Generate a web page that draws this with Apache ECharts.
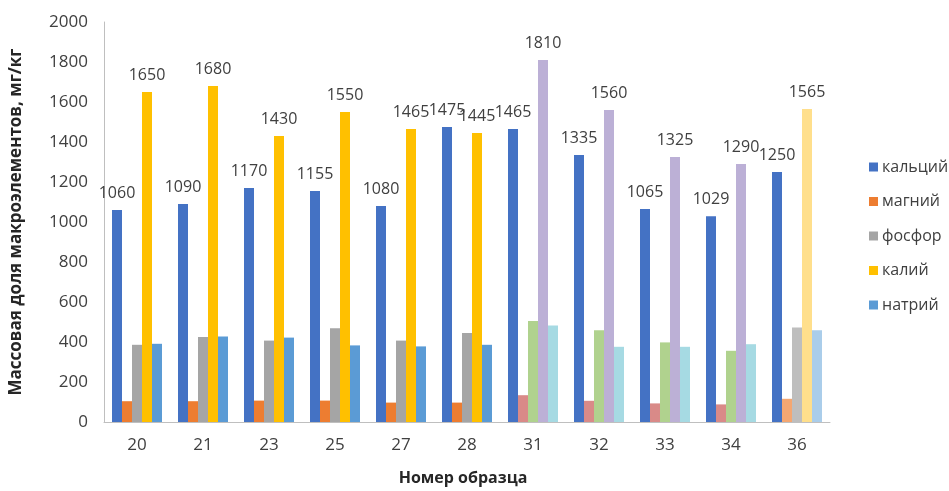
<!DOCTYPE html>
<html>
<head>
<meta charset="utf-8">
<script src="https://cdn.jsdelivr.net/npm/echarts@6/dist/echarts.min.js"></script>
<style>
  html, body { margin: 0; padding: 0; background: #fff; }
  #chart { width: 949px; height: 491px; }
</style>
</head>
<body>
<div id="chart"></div>
<script>
// Sample numbers (x axis)
const samples = ['20', '21', '23', '25', '27', '28', '31', '32', '33', '34', '36'];

// Mass fraction of macroelements, mg/kg
const calcium    = [1060, 1090, 1170, 1155, 1080, 1475, 1465, 1335, 1065, 1029, 1250];
const magnesium  = [104, 104, 107, 107, 97, 97, 134, 106, 93, 88, 116];
const phosphorus = [386, 425, 407, 469, 407, 445, 505, 459, 398, 356, 472];
const potassium  = [1650, 1680, 1430, 1550, 1465, 1445, 1810, 1560, 1325, 1290, 1565];
const sodium     = [391, 427, 422, 383, 378, 386, 482, 376, 376, 389, 459];

const seriesNames = ['кальций', 'магний', 'фосфор', 'калий', 'натрий'];
const yTicks = [0, 200, 400, 600, 800, 1000, 1200, 1400, 1600, 1800, 2000];

// Base palette plus the alternative shades used for samples 31–34 and 36
const baseColors = ['#4472C4', '#ED7D31', '#A5A5A5', '#FFC000', '#5B9BD5'];
const altColorsA = ['#4472C4', '#D98A88', '#B0D28E', '#BCB0D6', '#A6DAE3'];
const altColorsB = ['#4472C4', '#F4A772', '#BEBEBE', '#FFDF8C', '#AACDEA'];

function colorFor(seriesIdx, catIdx) {
  const s = samples[catIdx];
  if (s === '36') return altColorsB[seriesIdx];
  if (['31', '32', '33', '34'].includes(s)) return altColorsA[seriesIdx];
  return baseColors[seriesIdx];
}

const values = [calcium, magnesium, phosphorus, potassium, sodium];
const labelled = [true, false, false, true, false];

const font = '"Open Sans", sans-serif';

const series = values.map((vals, si) => ({
  name: seriesNames[si],
  type: 'bar',
  barWidth: 10,
  barGap: '0%',
  itemStyle: { color: baseColors[si] },
  label: {
    show: labelled[si],
    position: 'top',
    distance: 9,
    color: '#404040',
    fontFamily: font,
    fontSize: 16
  },
  data: vals.map((v, ci) => ({ value: v, itemStyle: { color: colorFor(si, ci) } }))
}));

const chart = echarts.init(document.getElementById('chart'), null, { renderer: 'canvas' });
chart.setOption({
  animation: false,
  backgroundColor: '#ffffff',
  grid: { left: 100, right: 119, top: 22, bottom: 66, containLabel: false },
  legend: {
    orient: 'vertical',
    left: 864,
    top: 154,
    itemWidth: 9,
    itemHeight: 9,
    itemGap: 18.5,
    icon: 'rect',
    textStyle: { color: '#404040', fontFamily: font, fontSize: 16, padding: [0, 0, 0, -1] },
    data: seriesNames.map((n, i) => ({ name: n, itemStyle: { color: baseColors[i] } }))
  },
  xAxis: {
    type: 'category',
    data: samples,
    name: 'Номер образца',
    nameLocation: 'middle',
    nameGap: 48,
    nameTextStyle: { color: '#262626', fontFamily: font, fontSize: 16, fontWeight: 'bold', padding: [0, 0, 0, -8] },
    axisLine: { lineStyle: { color: '#BFBFBF', width: 1 } },
    axisTick: { show: false },
    axisLabel: { color: '#404040', fontFamily: font, fontSize: 17, margin: 15 },
    splitLine: { show: false }
  },
  yAxis: {
    type: 'value',
    min: yTicks[0],
    max: yTicks[yTicks.length - 1],
    interval: yTicks[1] - yTicks[0],
    name: 'Массовая доля макроэлементов, мг/кг',
    nameLocation: 'middle',
    nameGap: 79,
    nameTextStyle: { color: '#262626', fontFamily: font, fontSize: 17, fontWeight: 'bold' },
    axisLine: { show: true, lineStyle: { color: '#BFBFBF', width: 1 } },
    axisTick: { show: false },
    axisLabel: {
      color: '#404040', fontFamily: font, fontSize: 17, margin: 16,
      formatter: v => String(v)
    },
    splitLine: { show: false }
  },
  series: series
});
</script>
</body>
</html>
